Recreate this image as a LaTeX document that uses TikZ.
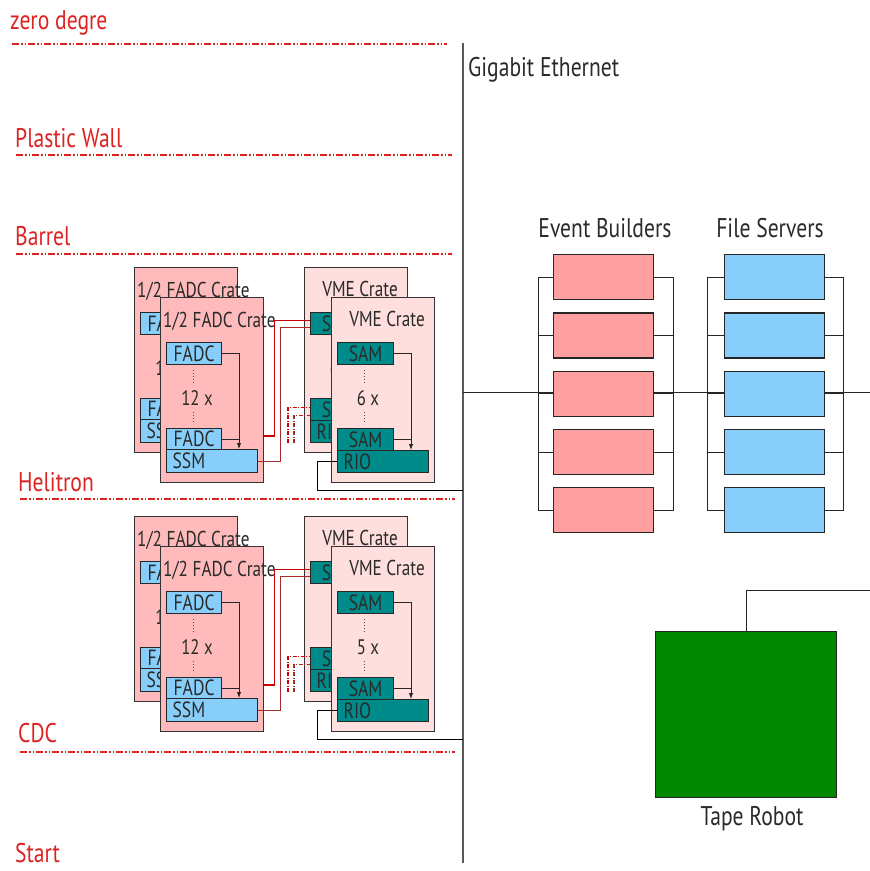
\documentclass[tikz,border=0pt]{standalone}
\usepackage{fontspec}
\setmainfont{PT Sans}[FakeStretch=0.8]
\usetikzlibrary{arrows.meta,calc}
\definecolor{lblred}{HTML}{DD2222}
\definecolor{fadcpink}{HTML}{FFBBBB}
\definecolor{vmepink}{HTML}{FFDEDE}
\definecolor{modblue}{HTML}{87CEFA}
\definecolor{modteal}{HTML}{008B8B}
\definecolor{ebpink}{HTML}{FFA0A0}
\definecolor{tapegreen}{HTML}{008800}
\definecolor{wirered}{HTML}{CC0000}
\definecolor{wiredark}{HTML}{A52A2A}
\definecolor{inkgray}{HTML}{2A2A2A}
\tikzset{
  crate/.style={draw=black!80, line width=1.2pt, anchor=north west, inner sep=0pt},
  fadccrate/.style={crate, fill=fadcpink, minimum width=103pt, minimum height=185pt},
  vmecrate/.style={crate, fill=vmepink, minimum width=103pt, minimum height=185pt},
  cratelbl/.style={inner sep=0pt, text=inkgray, font=\fontsize{21.5}{21.5}\selectfont},
  module/.style={draw=black!85, line width=1.2pt, anchor=north west, inner sep=0pt, text=inkgray, font=\fontsize{22}{22}\selectfont},
  bluemod/.style={module, fill=modblue},
  tealmod/.style={module, fill=modteal},
  leftmod/.style={inner xsep=6pt, text width=79pt, align=left},
  counttxt/.style={inner sep=0pt, anchor=base, text=inkgray, font=\fontsize{21}{21}\selectfont},
  dotcol/.style={line width=1pt, black!70, dash pattern=on 1pt off 2pt},
  flow/.style={line width=1pt, black!85},
  flowarrow/.style={flow, -{Latex[length=6pt,width=4.5pt]}},
  wireA/.style={line width=1.2pt, wirered},
  wireB/.style={line width=1.2pt, wiredark},
  dashA/.style={wireA, dash pattern=on 4pt off 1.5pt on 1pt off 1.5pt},
  dashB/.style={wireB, dash pattern=on 4pt off 1.5pt on 1pt off 1.5pt},
  blkwire/.style={line width=1pt, black},
  sectlbl/.style={inner sep=0pt, anchor=base west, text=lblred, font=\fontsize{27}{27}\selectfont},
  sectline/.style={line width=1.5pt, lblred, dash pattern=on 7pt off 2pt on 1.5pt off 2pt on 1.5pt off 2pt},
  headlbl/.style={inner sep=0pt, anchor=base, text=inkgray, font=\fontsize{27}{27}\selectfont},
  ebbox/.style={draw=black!85, line width=1.2pt, fill=ebpink, anchor=north west, minimum width=100pt, minimum height=45pt, inner sep=0pt},
  fsbox/.style={draw=black!85, line width=1.2pt, fill=modblue, anchor=north west, minimum width=100pt, minimum height=45pt, inner sep=0pt},
  bus/.style={line width=1pt, black!85},
}
% FADC crate: #1 name prefix, #2 x, #3 y
\newcommand{\fadcunit}[3]{%
  \begin{scope}[shift={(#2,#3)}]
    \node[fadccrate] (#1c) at (0,0) {};
    \node[cratelbl, anchor=base west] (#1l) at (3,30) {1/2 FADC Crate};
    \node[bluemod, minimum width=55pt, minimum height=22pt] (#1m1) at (6,45) {FADC};
    \draw[dotcol] (33,73) -- (33,86);
    \node[counttxt] (#1n) at (37,108) {12 x};
    \draw[dotcol] (33,115) -- (33,127);
    \node[bluemod, minimum width=55pt, minimum height=21pt] (#1m2) at (6,131) {FADC};
    \node[bluemod, leftmod, minimum height=23pt] (#1s) at (6,152) {SSM};
    \coordinate (#1ax) at (79,152);
    \draw[flowarrow] (#1m1.east) -| (#1ax);
    \draw[flow] (#1m2.east) -- (#1m2.east -| #1ax);
  \end{scope}}
% VME crate: #1 name prefix, #2 x, #3 y, #4 count
\newcommand{\vmeunit}[4]{%
  \begin{scope}[shift={(#2,#3)}]
    \node[vmecrate] (#1c) at (0,0) {};
    \node[cratelbl, anchor=base] (#1l) at (56,29) {VME Crate};
    \node[tealmod, minimum width=56pt, minimum height=22pt] (#1m1) at (6,45) {SAM};
    \draw[dotcol] (33,73) -- (33,86);
    \node[counttxt] (#1n) at (37,108) {#4 x};
    \draw[dotcol] (33,115) -- (33,127);
    \node[tealmod, minimum width=56pt, minimum height=22pt] (#1m2) at (6,131) {SAM};
    \node[tealmod, leftmod, minimum height=22pt] (#1r) at (6,153) {RIO};
    \coordinate (#1ax) at (80,153);
    \draw[flowarrow] (#1m1.east) -| (#1ax);
    \draw[flow] (#1m2.east) -- (#1m2.east -| #1ax);
  \end{scope}}
% group of crates: #1 y offset, #2 count, #3 prefix
\newcommand{\crategroup}[3]{%
  \begin{scope}[yshift=-#1pt]
    \fadcunit{#3fb}{134}{267}
    \vmeunit{#3vb}{304}{267}{#2}
    \fadcunit{#3ff}{160}{297}
    \vmeunit{#3vf}{331}{297}{#2}
    \draw[wireA] ([yshift=-139pt]#3ffc.north east) -- ++(10,0) |- ([yshift=3pt]#3vbm1.west);
    \draw[wireB] (#3ffs.east) -- ++(22,0) |- ([yshift=-4pt]#3vbm1.west);
    \coordinate (#3d1) at (288,443);
    \coordinate (#3d2) at (294,443);
    \draw[dashA] (#3d1) |- ([yshift=2pt]#3vbm2.west);
    \draw[dashB] (#3d2) |- ([yshift=-6pt]#3vbm2.west);
    \coordinate (#3eth) at (463,490);
    \draw[blkwire] (#3vfr.west) -- ++(-20,0) |- (#3eth);
  \end{scope}}

\begin{document}
\begin{tikzpicture}[x=1pt, y=-1pt]
  \useasboundingbox (0,0) rectangle (870,871);
  \fill[white] (0,0) rectangle (870,871);

  % section labels and separators
  \node[sectlbl] (lz) at (10,29) {zero degre};
  \coordinate (z1) at (12,44); \coordinate (z2) at (447,44);
  \draw[sectline] (z1) -- (z2);
  \node[sectlbl] (lp) at (15,147) {Plastic Wall};
  \coordinate (p1) at (16,155); \coordinate (p2) at (452,155);
  \draw[sectline] (p1) -- (p2);
  \node[sectlbl] (lb) at (15,245) {Barrel};
  \coordinate (b1) at (16,254); \coordinate (b2) at (452,254);
  \draw[sectline] (b1) -- (b2);
  \node[sectlbl] (lh) at (18,491) {Helitron};
  \coordinate (h1) at (20,499); \coordinate (h2) at (455,499);
  \draw[sectline] (h1) -- (h2);
  \node[sectlbl] (lc) at (18,742) {CDC};
  \coordinate (c1) at (20,752); \coordinate (c2) at (455,752);
  \draw[sectline] (c1) -- (c2);
  \node[sectlbl] (ls) at (15,862) {Start};

  % gigabit ethernet backbone
  \coordinate (etop) at (463,43); \coordinate (ebot) at (463,863);
  \draw[line width=1.5pt, black!65] (etop) -- (ebot);
  \node[inner sep=0pt, anchor=base west, text=inkgray, font=\fontsize{27}{27}\selectfont] (gbe) at (468,76) {Gigabit Ethernet};

  % crate groups
  \crategroup{0}{6}{u}
  \crategroup{249}{5}{l}

  % event builders and file servers
  \node[headlbl] (ebh) at (605,237) {Event Builders};
  \node[headlbl] (fsh) at (770,237) {File Servers};
  \foreach \i in {1,...,5} {
    \node[ebbox] (eb\i) at (553,{254+58.3*(\i-1)}) {};
    \node[fsbox] (fs\i) at (724,{254+58.3*(\i-1)}) {};
  }
  \draw[bus] (eb1.west) -- ++(-15,0) |- (eb5.west);
  \draw[bus] (eb1.east) -- ++(19,0) |- (eb5.east);
  \draw[bus] (fs1.west) -- ++(-17,0) |- (fs5.west);
  \draw[bus] (fs1.east) -- ++(18,0) |- (fs5.east);
  \foreach \i in {2,3,4} {
    \draw[bus] (eb\i.west) -- ++(-15,0);
    \draw[bus] (eb\i.east) -- ++(19,0);
    \draw[bus] (fs\i.west) -- ++(-17,0);
    \draw[bus] (fs\i.east) -- ++(18,0);
  }
  \coordinate (ethmid) at (463,392);
  \coordinate (rightend) at (870,392);
  \draw[bus] (ethmid) -- (ethmid -| eb3.west);
  \draw[bus] (eb3.east |- ethmid) -- (fs3.west |- ethmid);
  \draw[bus] (fs3.east |- ethmid) -- (rightend);

  % tape robot
  \node[draw=black!85, line width=1.2pt, fill=tapegreen, anchor=north west, minimum width=181pt, minimum height=166pt, inner sep=0pt] (tape) at (655,631) {};
  \node[headlbl] (tapel) at (752,825) {Tape Robot};
  \coordinate (tapeend) at (870,590);
  \draw[bus] (tape.north) |- (tapeend);
\end{tikzpicture}
\end{document}
